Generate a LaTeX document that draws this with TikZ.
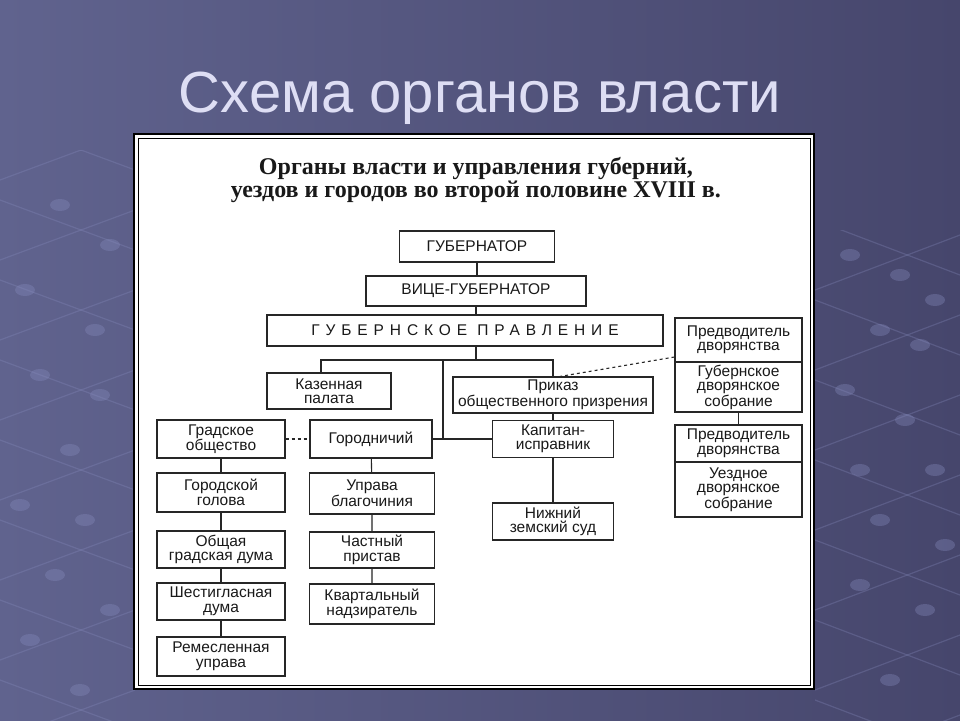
\documentclass[tikz,border=0pt]{standalone}
\usepackage{fontspec}
\setmainfont{Liberation Serif}
\setsansfont{Liberation Sans}
\usetikzlibrary{positioning, calc, backgrounds}

\definecolor{slideL}{RGB}{96,99,142}
\definecolor{slideR}{RGB}{70,70,108}
\definecolor{titleC}{RGB}{222,222,244}
\definecolor{netC}{RGB}{135,140,190}

\begin{document}
\begin{tikzpicture}[x=1pt, y=-1pt,
    box/.style={draw=black!85, line width=1.1pt, fill=white, inner sep=1pt, align=center,
        text=black!90, font=\sffamily\fontsize{15.5}{14.5}\selectfont},
    conn/.style={draw=black!85, line width=1.1pt},
    dot/.style={fill=netC, opacity=0.35}]
    \useasboundingbox (0,0) rectangle (960,720);
    % slide background
    \shade[left color=slideL, right color=slideR] (0,0) rectangle (960,720);
    \begin{scope}[netC, opacity=0.3, line width=1.2pt]
        \clip (0,150) rectangle (135,720);
        \foreach \c in {120,200,280,360,440,520,600,680} {
            \draw (0,\c) -- (135,\c+50);
            \draw (0,\c+60) -- (135,\c+10);
        }
    \end{scope}
    \begin{scope}[netC, opacity=0.3, line width=1.2pt]
        \clip (815,230) rectangle (960,720);
        \foreach \c in {220,300,380,460,540,620,700} {
            \draw (815,\c) -- (960,\c+55);
            \draw (815,\c+70) -- (960,\c+15);
        }
    \end{scope}
    \foreach \x/\y in {60/205,110/245,25/290,95/330,40/375,100/395,70/450,20/505,85/520,55/575,110/610,30/640,80/690,
        850/255,900/275,935/300,880/330,920/345,845/390,905/420,860/470,935/470,880/520,945/545,860/585,925/610,890/680} {
        \fill[dot] (\x,\y) ellipse (10pt and 6pt);
    }
    % slide title
    \node[titleC, font=\sffamily\fontsize{58}{62}\selectfont] (slidetitle) at (480,98) {Схема органов власти};
    % white panel with double frame
    \fill[white] (133,133) rectangle (815,690);
    \draw[black, line width=2pt] (134,134) rectangle (814,689);
    \draw[black, line width=1pt] (138,138) rectangle (810,685);
    \node[font=\bfseries\fontsize{24}{23}\selectfont, align=center, text=black!90] (head) at (476,180)
        {Органы власти и управления губерний,\\уездов и городов во второй половине XVIII в.};

    % top of the tree
    \node[box, minimum width=155pt, minimum height=31pt] (gub) at (477,246.5) {ГУБЕРНАТОР};
    \node[box, minimum width=220pt, minimum height=30pt] (vice) at (476,291) {ВИЦЕ-ГУБЕРНАТОР};
    \node[box, minimum width=396pt, minimum height=31pt] (prav) at (465,330.5)
        {\addfontfeatures{LetterSpace=38}ГУБЕРНСКОЕ ПРАВЛЕНИЕ};
    \node[box, minimum width=124pt, minimum height=36pt] (kaz) at (329,391) {Казенная\\палата};
    \node[box, minimum width=200pt, minimum height=36pt] (prik) at (553,395) {Приказ\\общественного призрения};
    % city branch
    \node[box, minimum width=128pt, minimum height=38pt] (grad) at (221,439) {Градское\\общество};
    \node[box, minimum width=122pt, minimum height=38pt] (gor) at (371,439) {Городничий};
    \node[box, minimum width=128pt, minimum height=39pt] (golova) at (221,492.5) {Городской\\голова};
    \node[box, minimum width=128pt, minimum height=37pt] (duma) at (221,549.5) {Общая\\градская дума};
    \node[box, minimum width=128pt, minimum height=37pt] (shest) at (221,601.5) {Шестигласная\\дума};
    \node[box, minimum width=128pt, minimum height=39pt] (rem) at (221,656.5) {Ремесленная\\управа};
    \node[box, minimum width=125pt, minimum height=41pt] (uprava) at (372,493.5) {Управа\\благочиния};
    \node[box, minimum width=125pt, minimum height=36pt] (chast) at (372,550) {Частный\\пристав};
    \node[box, minimum width=125pt, minimum height=40pt] (kvart) at (372,604) {Квартальный\\надзиратель};
    % uezd branch
    \node[box, minimum width=121pt, minimum height=37pt] (kap) at (553,439) {Капитан-\\исправник};
    \node[box, minimum width=121pt, minimum height=37pt] (nizh) at (553,521.5) {Нижний\\земский суд};
    % nobility
    \node[box, minimum width=127pt, minimum height=44pt] (pred1) at (738.5,340) {Предводитель\\дворянства};
    \node[box, minimum width=127pt, minimum height=50pt] (sobr1) at (738.5,387) {Губернское\\дворянское\\собрание};
    \node[box, minimum width=127pt, minimum height=37pt] (pred2) at (738.5,443.5) {Предводитель\\дворянства};
    \node[box, minimum width=127pt, minimum height=55pt] (sobr2) at (738.5,489.5) {Уездное\\дворянское\\собрание};

    % connectors
    \coordinate (busL) at (321,360);
    \coordinate (busR) at (553,360);
    \coordinate (tap) at (443,360);
    \draw[conn] (gub) -- (gub |- vice.north);
    \draw[conn] (vice.south) -- (vice.south |- prav.north);
    \draw[conn] (vice.south |- prav.south) -- (vice.south |- busL);
    \draw[conn] (kaz.north -| busL) -- (busL) -- (busR) -- (prik.north);
    \draw[conn] (tap) -- (tap |- gor.east);
    \draw[conn] (gor.east) -- (kap.west);
    \draw[conn] (prik.south) -- (kap.north);
    \draw[conn] (kap.south) -- (nizh.north);
    \draw[conn] (grad) -- (golova) -- (duma) -- (shest) -- (rem);
    \draw[conn] (gor) -- (uprava) -- (chast) -- (kvart);
    \draw[conn] (sobr1) -- (pred2);
    \draw[conn, dashed] (grad.east) -- (gor.west);
    \draw[conn, dashed] ([yshift=-17pt]pred1.west) -- ([xshift=7pt]prik.north);
\end{tikzpicture}
\end{document}
